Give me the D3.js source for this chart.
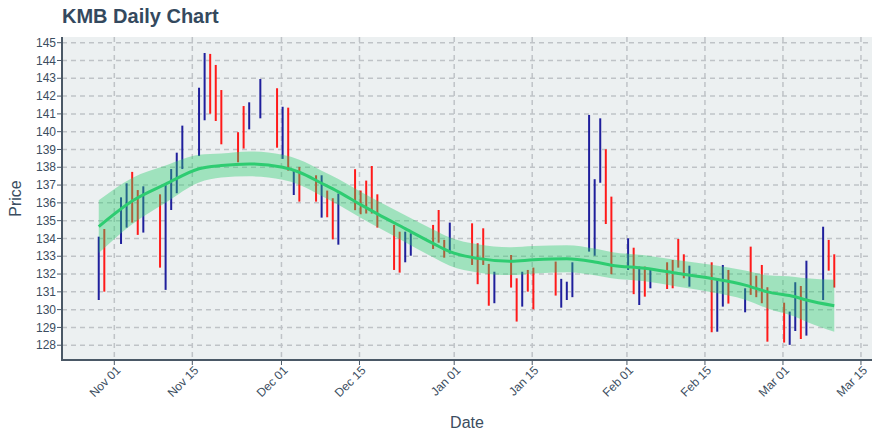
<!DOCTYPE html>
<html>
<head>
<meta charset="utf-8">
<script src="https://cdn.jsdelivr.net/npm/d3@7/dist/d3.min.js"></script>
<style>
  html, body { margin: 0; padding: 0; background: #ffffff; }
  svg { display: block; }
</style>
</head>
<body>
<div id="chart"></div>
<script>
// ---------------- DATA ----------------
const dates = [
  "2020-10-29","2020-10-30","2020-11-02","2020-11-03","2020-11-04","2020-11-05","2020-11-06",
  "2020-11-09","2020-11-10","2020-11-11","2020-11-12","2020-11-13","2020-11-16","2020-11-17",
  "2020-11-18","2020-11-19","2020-11-20","2020-11-23","2020-11-24","2020-11-25","2020-11-27",
  "2020-11-30","2020-12-01","2020-12-02","2020-12-03","2020-12-04","2020-12-07","2020-12-08",
  "2020-12-09","2020-12-10","2020-12-11","2020-12-14","2020-12-15","2020-12-16","2020-12-17",
  "2020-12-18","2020-12-21","2020-12-22","2020-12-23","2020-12-24","2020-12-28","2020-12-29",
  "2020-12-30","2020-12-31","2021-01-04","2021-01-05","2021-01-06","2021-01-07","2021-01-08",
  "2021-01-11","2021-01-12","2021-01-13","2021-01-14","2021-01-15","2021-01-19","2021-01-20",
  "2021-01-21","2021-01-22","2021-01-25","2021-01-26","2021-01-27","2021-01-28","2021-01-29",
  "2021-02-01","2021-02-02","2021-02-03","2021-02-04","2021-02-05","2021-02-08","2021-02-09",
  "2021-02-10","2021-02-11","2021-02-12","2021-02-16","2021-02-17","2021-02-18","2021-02-19",
  "2021-02-22","2021-02-23","2021-02-24","2021-02-25","2021-02-26","2021-03-01","2021-03-02",
  "2021-03-03","2021-03-04","2021-03-05","2021-03-08","2021-03-09","2021-03-10"
];
const highs = [
  134.10,134.53,136.31,137.10,137.74,136.72,136.93,
  136.48,137.04,137.90,138.82,140.34,142.47,144.42,
  144.37,143.75,142.34,139.97,141.44,141.65,142.96,
  142.44,141.40,141.35,137.81,138.02,137.55,137.55,
  136.69,136.26,136.52,137.89,136.69,137.25,138.07,
  136.48,134.76,134.38,134.38,134.29,134.76,135.60,
  133.92,134.89,134.85,133.73,134.57,132.57,132.13,
  133.07,131.76,132.13,132.23,132.36,132.70,131.73,
  131.57,132.66,140.94,137.33,140.75,139.01,136.35,
  134.01,133.48,132.42,132.42,132.33,132.66,132.79,
  133.97,133.11,132.47,132.66,131.76,132.51,132.23,
  131.20,133.54,131.91,132.51,131.26,130.39,129.89,
  131.54,131.33,132.75,134.66,133.92,133.11
];
const lows = [
  130.54,131.01,133.69,134.61,134.89,134.20,134.33,
  132.36,131.11,135.60,136.54,137.90,138.63,140.64,
  141.01,140.60,139.29,138.28,139.05,140.13,140.75,
  139.10,138.47,137.81,136.44,136.07,136.07,135.17,
  135.19,133.95,133.65,135.59,135.36,135.40,135.40,
  134.61,132.23,132.08,132.66,133.03,133.41,133.76,
  132.92,133.15,132.51,131.43,132.51,130.22,130.36,
  131.24,129.33,130.17,131.01,130.02,130.79,130.11,
  130.54,130.70,133.26,133.03,137.13,134.81,131.99,
  132.23,130.87,130.26,130.73,131.20,131.16,131.20,
  132.36,131.76,131.29,128.73,128.76,130.17,130.34,
  129.85,130.83,130.70,130.36,128.20,128.15,128.02,
  128.80,128.35,128.54,130.54,132.19,131.24
];
// 1 = increasing (blue), -1 = decreasing (red)
const direction = [
  1,-1,1,1,-1,-1,1,
  -1,1,1,1,1,1,1,
  -1,-1,-1,-1,-1,1,1,
  -1,1,-1,1,-1,-1,1,
  -1,-1,1,-1,-1,-1,-1,
  -1,-1,-1,1,1,-1,-1,
  -1,1,-1,-1,-1,-1,1,
  -1,-1,1,-1,-1,-1,1,
  1,1,1,1,1,-1,-1,
  1,-1,1,-1,1,-1,-1,
  -1,-1,1,-1,1,1,-1,
  1,-1,-1,-1,-1,-1,1,
  1,-1,1,1,-1,-1
];

// Smoothed trend and its confidence half-width
const trendDates = [
  "2020-10-29","2020-11-04","2020-11-10","2020-11-16","2020-11-20","2020-11-25","2020-12-01",
  "2020-12-04","2020-12-08","2020-12-11","2020-12-15","2020-12-18","2020-12-23","2020-12-28",
  "2020-12-31","2021-01-05","2021-01-11","2021-01-15","2021-01-21","2021-01-26","2021-01-29",
  "2021-02-04","2021-02-10","2021-02-16","2021-02-22","2021-02-26","2021-03-03","2021-03-05",
  "2021-03-10"
];
const trendValues = [
  134.66,136.10,137.05,137.92,138.10,138.19,138.00,
  137.72,137.10,136.62,135.90,135.38,134.55,133.72,
  133.26,132.88,132.72,132.80,132.86,132.68,132.50,
  132.32,132.03,131.75,131.38,131.00,130.72,130.54,
  130.22
];
const trendHalfWidth = [
  1.48,1.30,1.05,0.78,0.68,0.70,0.70,
  0.70,0.71,0.72,0.73,0.74,0.76,0.78,
  0.79,0.79,0.78,0.77,0.76,0.75,0.74,
  0.73,0.74,0.77,0.82,0.93,1.12,1.22,
  1.46
];

const xTickDates = ["2020-11-01","2020-11-15","2020-12-01","2020-12-15","2021-01-01",
                    "2021-01-15","2021-02-01","2021-02-15","2021-03-01","2021-03-15"];
const yTicks = [128,129,130,131,132,133,134,135,136,137,138,139,140,141,142,143,144,145];

const titleText = "KMB Daily Chart";
const xTitle = "Date";
const yTitle = "Price";

// ---------------- LAYOUT ----------------
const W = 880, H = 440;
const plot = { left: 62, right: 872, top: 37, bottom: 360 };
const parse = d3.utcParse("%Y-%m-%d");
const DAY = 86400000;
const barOffset = 5 * 3600000; // bars sit at 05:00 of their session date

const xStart = new Date(parse("2020-11-01").getTime() - 9.386 * DAY);
const xEnd = new Date(parse("2020-11-01").getTime() + 135.98 * DAY);
const x = d3.scaleUtc().domain([xStart, xEnd]).range([plot.left, plot.right]);
const y = d3.scaleLinear().domain([127.17, 145.32]).range([plot.bottom, plot.top]);

const bars = dates.map((d, i) => ({
  t: new Date(parse(d).getTime() + barOffset),
  hi: highs[i], lo: lows[i], dir: direction[i]
}));
const trend = trendDates.map((d, i) => ({
  t: new Date(parse(d).getTime() + barOffset),
  v: trendValues[i], h: trendHalfWidth[i]
}));

const svg = d3.select("#chart").append("svg").attr("width", W).attr("height", H);

// plot background
svg.append("rect")
  .attr("x", plot.left).attr("y", plot.top)
  .attr("width", plot.right - plot.left).attr("height", plot.bottom - plot.top)
  .attr("fill", "#ecf0f1");

const gridColor = "#bfc3c7";
// horizontal grid
svg.append("g").selectAll("line").data(yTicks).join("line")
  .attr("x1", plot.left).attr("x2", plot.right)
  .attr("y1", d => y(d)).attr("y2", d => y(d))
  .attr("stroke", gridColor).attr("stroke-width", 1.5)
  .attr("stroke-dasharray", "5,4");
// vertical grid
const xTicks = xTickDates.map(parse);
svg.append("g").selectAll("line").data(xTicks).join("line")
  .attr("x1", d => x(d)).attr("x2", d => x(d))
  .attr("y1", plot.top).attr("y2", plot.bottom)
  .attr("stroke", gridColor).attr("stroke-width", 1.5)
  .attr("stroke-dasharray", "5,4");

// OHLC bars (high-low)
svg.append("g").selectAll("line").data(bars).join("line")
  .attr("x1", d => x(d.t)).attr("x2", d => x(d.t))
  .attr("y1", d => y(d.hi)).attr("y2", d => y(d.lo))
  .attr("stroke", d => d.dir > 0 ? "#1f1f9c" : "#ff1a1a")
  .attr("stroke-width", 2);

// confidence band
const area = d3.area()
  .x(d => x(d.t))
  .y0(d => y(d.v - d.h))
  .y1(d => y(d.v + d.h))
  .curve(d3.curveMonotoneX);
svg.append("path").datum(trend)
  .attr("d", area)
  .attr("fill", "rgba(46,204,113,0.4)");

// trend line
const line = d3.line().x(d => x(d.t)).y(d => y(d.v)).curve(d3.curveMonotoneX);
svg.append("path").datum(trend)
  .attr("d", line)
  .attr("fill", "none")
  .attr("stroke", "#2ecc71")
  .attr("stroke-width", 3);

// axes lines
const axisColor = "#4a5866";
svg.append("line")
  .attr("x1", plot.left).attr("x2", plot.left)
  .attr("y1", plot.top).attr("y2", plot.bottom + 1)
  .attr("stroke", axisColor).attr("stroke-width", 2);
svg.append("line")
  .attr("x1", plot.left - 1).attr("x2", plot.right)
  .attr("y1", plot.bottom).attr("y2", plot.bottom)
  .attr("stroke", axisColor).attr("stroke-width", 2);

const textColor = "#3b4d60";
const font = "'Liberation Sans', Arial, Helvetica, sans-serif";

// y ticks
const yAxisG = svg.append("g");
yAxisG.selectAll("line").data(yTicks).join("line")
  .attr("x1", plot.left - 5).attr("x2", plot.left)
  .attr("y1", d => y(d)).attr("y2", d => y(d))
  .attr("stroke", axisColor).attr("stroke-width", 1);
yAxisG.selectAll("text").data(yTicks).join("text")
  .attr("x", plot.left - 6).attr("y", d => y(d))
  .attr("dy", "0.35em")
  .attr("text-anchor", "end")
  .attr("font-family", font).attr("font-size", 12)
  .attr("fill", textColor)
  .text(d => d);

// x ticks
const fmt = d3.utcFormat("%b %d");
const xAxisG = svg.append("g");
xAxisG.selectAll("line").data(xTicks).join("line")
  .attr("x1", d => x(d)).attr("x2", d => x(d))
  .attr("y1", plot.bottom).attr("y2", plot.bottom + 5)
  .attr("stroke", axisColor).attr("stroke-width", 1);
xAxisG.selectAll("text").data(xTicks).join("text")
  .attr("transform", d => `translate(${x(d) + 4},${plot.bottom + 8}) rotate(-45)`)
  .attr("dy", "0.35em")
  .attr("text-anchor", "end")
  .attr("font-family", font).attr("font-size", 12)
  .attr("fill", textColor)
  .text(d => fmt(d));

// titles
svg.append("text")
  .attr("x", 62).attr("y", 23)
  .attr("font-family", font).attr("font-size", 20).attr("font-weight", "bold")
  .attr("fill", "#34495e")
  .text(titleText);
svg.append("text")
  .attr("x", (plot.left + plot.right) / 2).attr("y", 428)
  .attr("text-anchor", "middle")
  .attr("font-family", font).attr("font-size", 16)
  .attr("fill", textColor)
  .text(xTitle);
svg.append("text")
  .attr("transform", `translate(21,${(plot.top + plot.bottom) / 2}) rotate(-90)`)
  .attr("text-anchor", "middle")
  .attr("font-family", font).attr("font-size", 16)
  .attr("fill", textColor)
  .text(yTitle);
</script>
</body>
</html>
